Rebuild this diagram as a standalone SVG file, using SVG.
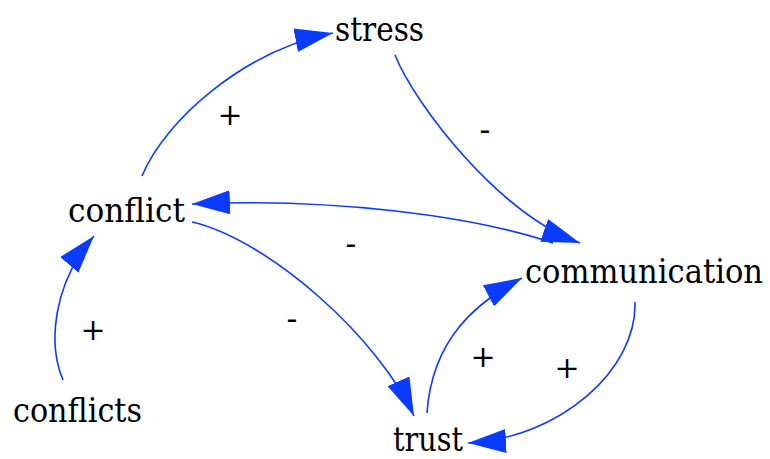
<svg xmlns="http://www.w3.org/2000/svg" width="770" height="459" viewBox="0 0 770 459">
  <style>
    text { font-family: 'DejaVu Serif Condensed', 'DejaVu Serif', 'Liberation Serif', serif; font-stretch: condensed; font-size: 34px; fill: #000; }
    .sign { text-anchor: middle; font-family: 'DejaVu Serif', serif; font-stretch: normal; }
    .plus { font-size: 30px; }
    .minus { font-size: 32px; }
    .link { fill: none; stroke: #0a3cff; stroke-width: 1.6; marker-end: url(#head); }
  </style>
  <defs>
    <marker id="head" markerUnits="userSpaceOnUse" markerWidth="40" markerHeight="24" refX="38" refY="12" orient="auto">
      <path d="M0,0 L38,12 L0,24 Z" fill="#0a3cff"/>
    </marker>
  </defs>
  <rect width="770" height="459" fill="#fff"/>

  <!-- causal links -->
  <g id="links">
    <path class="link" d="M142,176 C165,120 245,50 333,33"/>
    <path class="link" d="M395,55 C415,105 500,215 580,243"/>
    <path class="link" d="M553,243 C470,215 330,198 192,204"/>
    <path class="link" d="M192,222 C270,240 380,340 414,416"/>
    <path class="link" d="M427,413 C432,340 475,303 522,278"/>
    <path class="link" d="M635,302 C637,370 560,438 468,443"/>
    <path class="link" d="M63,380 C48,345 52,285 94,236"/>
  </g>

  <!-- link polarities -->
  <g id="polarities">
    <text class="sign plus" x="230" y="125">+</text>
    <text class="sign minus" x="485" y="140">-</text>
    <text class="sign minus" x="351" y="254">-</text>
    <text class="sign minus" x="292" y="329">-</text>
    <text class="sign plus" x="93" y="340">+</text>
    <text class="sign plus" x="483" y="367">+</text>
    <text class="sign plus" x="567" y="378">+</text>
  </g>

  <!-- variables -->
  <g id="stress"><text x="335" y="41" textLength="89" lengthAdjust="spacingAndGlyphs">stress</text></g>
  <g id="conflict"><text x="68" y="222" textLength="117" lengthAdjust="spacingAndGlyphs">conflict</text></g>
  <g id="communication"><text x="525" y="283" textLength="238" lengthAdjust="spacingAndGlyphs">communication</text></g>
  <g id="conflicts"><text x="13" y="422" textLength="129" lengthAdjust="spacingAndGlyphs">conflicts</text></g>
  <g id="trust"><text x="393" y="451" textLength="70" lengthAdjust="spacingAndGlyphs">trust</text></g>
</svg>
